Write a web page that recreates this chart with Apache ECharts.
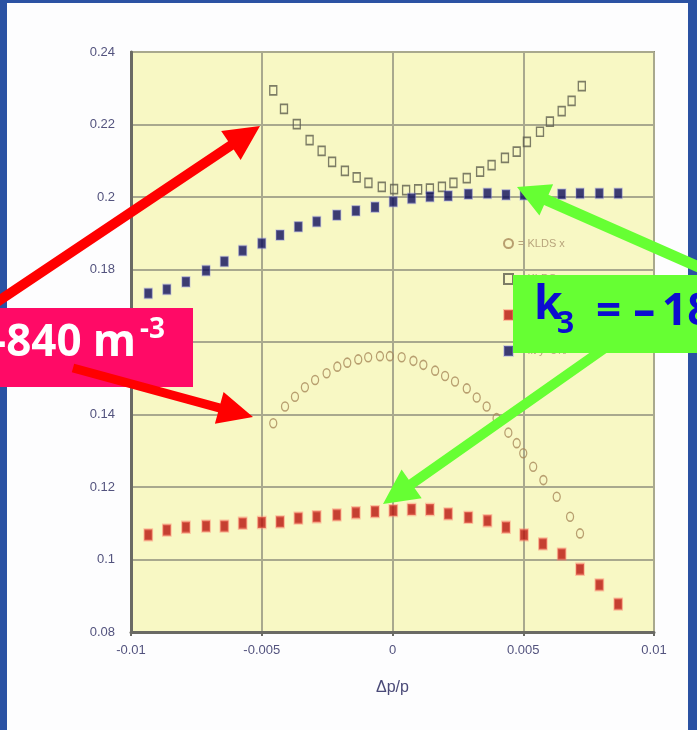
<!DOCTYPE html>
<html><head><meta charset="utf-8">
<script src="https://cdn.jsdelivr.net/npm/echarts@6/dist/echarts.min.js"></script>
<style>
html,body{margin:0;padding:0;width:697px;height:730px;overflow:hidden;background:#2b52a3;}
#panel{position:absolute;left:7px;top:3px;width:681px;height:727px;background:#fdfdfe;}
#chart{position:absolute;left:0;top:0;width:697px;height:730px;}
</style></head><body><div id="panel"></div><div id="chart"></div>
<script>
// ---- axis ranges ----
const X_MIN = -0.01, X_MAX = 0.01, X_STEP = 0.005;
const Y_MIN = 0.08, Y_MAX = 0.24, Y_STEP = 0.02;
const X_NAME = 'Δp/p';

// ---- filled-square series (shared x) ----
const xFilled = [-0.00934,-0.00863,-0.0079,-0.00713,-0.00643,-0.00573,-0.005,-0.0043,-0.0036,-0.0029,-0.00213,-0.0014,-0.00067,0.00003,0.00073,0.00143,0.00213,0.0029,0.00363,0.00434,0.00503,0.00575,0.00647,0.00717,0.00791,0.00863];
const redY  = [0.1068,0.1081,0.1089,0.1092,0.1092,0.1100,0.1102,0.1104,0.1114,0.1118,0.1123,0.1129,0.1132,0.1135,0.1138,0.1138,0.1126,0.1116,0.1107,0.1089,0.1068,0.1043,0.1015,0.0973,0.0930,0.0877];
const navyY = [0.1734,0.1745,0.1766,0.1797,0.1822,0.1852,0.1872,0.1895,0.1918,0.1932,0.1950,0.1962,0.1972,0.1987,0.1996,0.2001,0.2003,0.2008,0.2010,0.2006,0.2006,0.2006,0.2008,0.2010,0.2010,0.2010];

// ---- open squares ----
const xOpenSq = [-0.00456,-0.00415,-0.00366,-0.00317,-0.00271,-0.00231,-0.00182,-0.00137,-0.00092,-0.00041,0.00006,0.00052,0.00098,0.00143,0.00189,0.00233,0.00284,0.00335,0.00379,0.0043,0.00475,0.00514,0.00564,0.00602,0.00647,0.00685,0.00724];
const openSqY = [0.2294,0.2243,0.2201,0.2157,0.2127,0.2097,0.2072,0.2054,0.2039,0.2028,0.2022,0.2019,0.2021,0.2023,0.2028,0.2039,0.2052,0.2070,0.2088,0.2108,0.2125,0.2152,0.2180,0.2208,0.2237,0.2265,0.2306];

// ---- open circles ----
const xCircle = [-0.00456,-0.00411,-0.00373,-0.00335,-0.00296,-0.00252,-0.00211,-0.00173,-0.00131,-0.00093,-0.00048,-0.0001,0.00035,0.0008,0.00118,0.00163,0.00201,0.00239,0.00284,0.00322,0.0036,0.00398,0.00443,0.00475,0.005,0.00538,0.00577,0.00628,0.00679,0.00717];
const circleY = [0.1376,0.1422,0.1449,0.1475,0.1495,0.1514,0.1532,0.1543,0.1552,0.1558,0.1561,0.1561,0.1558,0.1548,0.1537,0.1521,0.1506,0.1491,0.1472,0.1447,0.1422,0.1390,0.1350,0.1321,0.1293,0.1256,0.1219,0.1173,0.1118,0.1072];

// ---- legend names ----
const seriesNames = ['= KLDS x', '= KLDS y', '= fit x', '= fit y  5%'];

// ---- annotation texts ----
const pinkText = '-840 m', pinkSup = '-3';
const greenK = 'k', greenSub = '3', greenEq = '=', greenMinus = '-', greenNum = '18';

const zip = (a, b) => a.map((v, i) => [v, b[i]]);

function arrowPoly(x1, y1, x2, y2, w, hl, hw) {
  const dx = x2 - x1, dy = y2 - y1, L = Math.hypot(dx, dy);
  const ux = dx / L, uy = dy / L, nx = -uy, ny = ux;
  const bx = x2 - ux * hl, by = y2 - uy * hl;
  return [[x1 + nx * w / 2, y1 + ny * w / 2], [bx + nx * w / 2, by + ny * w / 2], [bx + nx * hw / 2, by + ny * hw / 2],
          [x2, y2], [bx - nx * hw / 2, by - ny * hw / 2], [bx - nx * w / 2, by - ny * w / 2], [x1 - nx * w / 2, y1 - ny * w / 2]];
}

const chart = echarts.init(document.getElementById('chart'), null, {renderer: 'canvas'});
const tickFont = 'Liberation Sans';
const option = {
  animation: false,
  backgroundColor: 'transparent',
  grid: {left: 131, top: 52, width: 523, height: 580, show: true, backgroundColor: '#f8f8c4', borderColor: '#8e8e7c', borderWidth: 2},
  legend: {
    show: true, orient: 'vertical', left: 498, top: 233, itemWidth: 9, itemHeight: 10, itemGap: 24,
    textStyle: {fontSize: 11, color: '#b8a47c', fontFamily: tickFont},
    data: seriesNames
  },
  xAxis: {
    type: 'value', min: X_MIN, max: X_MAX, interval: X_STEP,
    name: X_NAME, nameLocation: 'middle', nameGap: 48,
    nameTextStyle: {fontSize: 16, color: '#4a4a78', fontFamily: tickFont},
    axisLine: {show: true, onZero: false, lineStyle: {color: '#6a6a64', width: 3}},
    axisTick: {show: true, length: 4, lineStyle: {color: '#6a6a64', width: 2}},
    axisLabel: {margin: 12, fontSize: 13, color: '#53537e', fontFamily: tickFont},
    splitLine: {show: true, lineStyle: {color: '#a9a98e', width: 2}}
  },
  yAxis: {
    type: 'value', min: Y_MIN, max: Y_MAX, interval: Y_STEP,
    axisLine: {show: true, onZero: false, lineStyle: {color: '#6a6a64', width: 3}},
    axisTick: {show: false},
    axisLabel: {margin: 16, fontSize: 13, color: '#53537e', fontFamily: tickFont},
    splitLine: {show: true, lineStyle: {color: '#a9a98e', width: 2}}
  },
  series: [
    {name: seriesNames[0], type: 'scatter', data: zip(xCircle, circleY), symbol: 'circle', symbolSize: [7, 9],
     itemStyle: {color: 'rgba(0,0,0,0)', borderColor: '#a8885a', borderWidth: 1.4}, z: 3},
    {name: seriesNames[1], type: 'scatter', data: zip(xOpenSq, openSqY), symbol: 'rect', symbolSize: [7, 9],
     itemStyle: {color: 'rgba(0,0,0,0)', borderColor: '#5e5e4e', borderWidth: 1.5}, z: 3},
    {name: seriesNames[2], type: 'scatter', data: zip(xFilled, redY), symbol: 'rect', symbolSize: [8, 11],
     itemStyle: {color: '#b8120c', borderColor: 'rgba(255,130,110,0.55)', borderWidth: 2}, z: 4},
    {name: seriesNames[3], type: 'scatter', data: zip(xFilled, navyY), symbol: 'rect', symbolSize: [8, 10],
     itemStyle: {color: '#0c0c5c', borderColor: 'rgba(150,150,230,0.45)', borderWidth: 1.5}, z: 4}
  ],
  graphic: [
    {type: 'polygon', z: 100, shape: {points: arrowPoly(-15, 310, 260, 126, 10, 35, 35)}, style: {fill: '#ff0000'}},
    {type: 'polygon', z: 100, shape: {points: arrowPoly(710, 272, 517, 187, 11, 32, 34)}, style: {fill: '#66ff33'}},
    {type: 'polygon', z: 100, shape: {points: arrowPoly(605, 348, 383, 504, 10, 35, 35)}, style: {fill: '#66ff33'}},
    {type: 'rect', z: 101, shape: {x: 0, y: 308, width: 193, height: 79}, style: {fill: '#ff0a66'}},
    {type: 'rect', z: 101, shape: {x: 513, y: 275, width: 200, height: 78}, style: {fill: '#66ff33'}},
    {type: 'polygon', z: 102, shape: {points: arrowPoly(73, 368, 253, 417, 9, 35, 33)}, style: {fill: '#ff0000'}},
    {type: 'text', z: 103, x: 136, y: 343, style: {text: pinkText, fill: '#ffffff', font: 'bold 44px "Noto Sans"', align: 'right', verticalAlign: 'middle'}},
    {type: 'text', z: 103, x: 140, y: 330, style: {text: pinkSup, fill: '#ffffff', font: 'bold 28px "Noto Sans"', align: 'left', verticalAlign: 'middle'}},
    {type: 'text', z: 103, x: 534, y: 306, style: {text: greenK, fill: '#0c0cd0', font: 'bold 46px "Noto Sans"', align: 'left', verticalAlign: 'middle'}},
    {type: 'text', z: 103, x: 557, y: 324, style: {text: greenSub, fill: '#0c0cd0', font: 'bold 30px "Noto Sans"', align: 'left', verticalAlign: 'middle'}},
    {type: 'text', z: 103, x: 596, y: 312, style: {text: greenEq, fill: '#0c0cd0', font: 'bold 44px "Noto Sans"', align: 'left', verticalAlign: 'middle'}},
    {type: 'text', z: 103, x: 633, y: 312, scaleX: 1.6, style: {text: greenMinus, fill: '#0c0cd0', font: 'bold 44px "Noto Sans"', align: 'left', verticalAlign: 'middle'}},
    {type: 'text', z: 103, x: 662, y: 312, style: {text: greenNum, fill: '#0c0cd0', font: 'bold 44px "Noto Sans"', align: 'left', verticalAlign: 'middle'}}
  ]
};
chart.setOption(option);
</script></body></html>
